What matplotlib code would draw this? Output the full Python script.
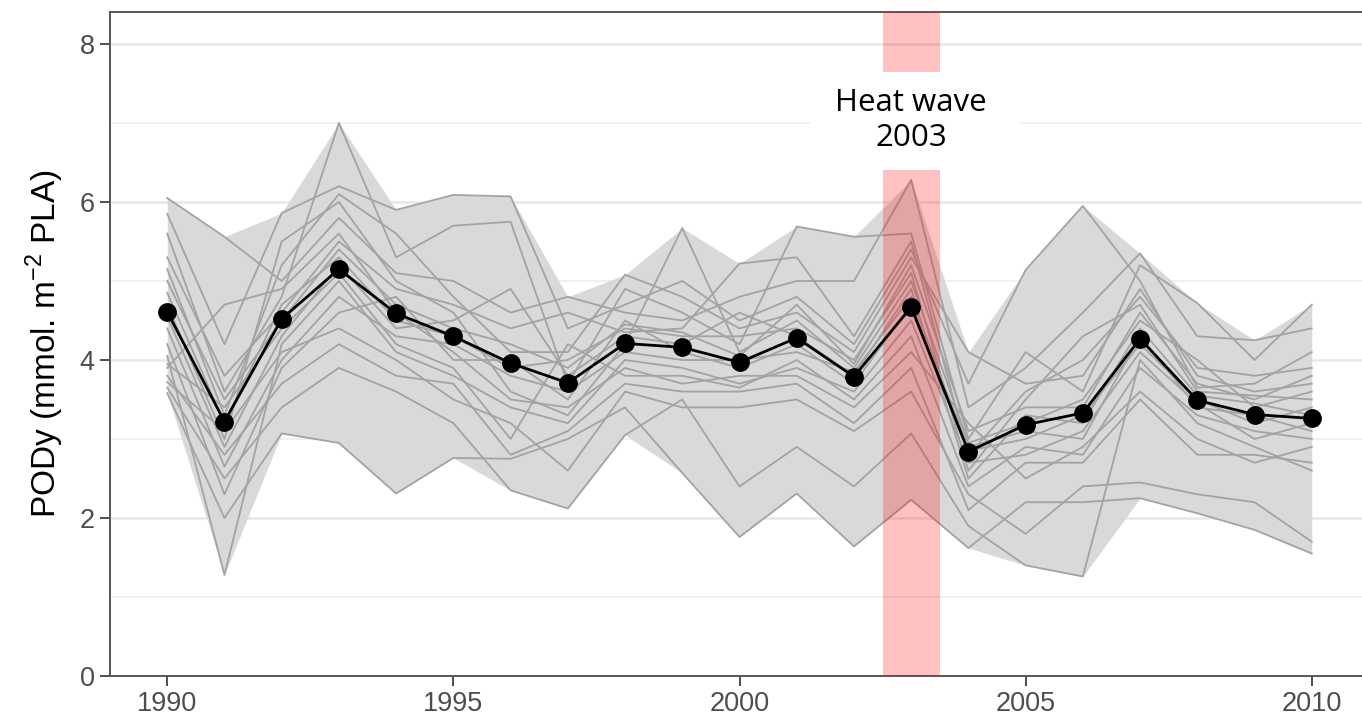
import numpy as np
import matplotlib
matplotlib.use("Agg")
import matplotlib.pyplot as plt
from matplotlib.patches import Rectangle

# years and mean PODy (black line)
years = list(range(1990, 2011))
mean_pody = [4.61, 3.22, 4.52, 5.15, 4.59, 4.30, 3.96, 3.71, 4.21, 4.16, 3.97,
             4.28, 3.79, 4.67, 2.84, 3.18, 3.33, 4.27, 3.49, 3.31, 3.26]

# individual sites (grey lines)
site_a = [6.05, 5.56, 5.0, 5.8, 5.1, 5.0, 4.6, 4.8, 4.6, 4.5, 4.8, 5.0, 5.0, 6.28, 3.4, 3.9, 4.6, 5.35, 4.3, 4.25, 4.4]
site_b = [5.85, 4.2, 5.86, 6.2, 5.9, 6.09, 6.07, 4.4, 4.7, 5.0, 4.5, 4.8, 4.2, 5.4, 3.7, 5.14, 5.95, 5.0, 3.65, 3.7, 4.1]
site_c = [5.6, 3.6, 4.8, 7.0, 5.3, 5.7, 5.75, 3.7, 4.9, 4.6, 4.2, 5.69, 5.56, 5.6, 3.0, 4.1, 3.6, 5.2, 4.72, 4.0, 4.7]
site_d = [5.3, 3.8, 4.6, 5.5, 4.9, 4.7, 4.4, 4.6, 4.35, 4.4, 5.22, 5.3, 4.3, 5.5, 2.8, 3.6, 4.0, 4.8, 3.9, 3.8, 3.9]
site_e = [5.15, 3.3, 5.2, 6.1, 5.6, 4.8, 4.1, 4.1, 5.08, 4.8, 4.4, 4.6, 4.1, 5.3, 4.1, 3.7, 3.8, 4.9, 3.8, 3.6, 3.7]
site_f = [5.0, 3.5, 4.5, 5.4, 4.7, 4.4, 4.2, 3.9, 4.45, 4.35, 4.05, 4.7, 3.95, 5.2, 3.1, 3.4, 3.4, 4.6, 3.7, 3.5, 3.8]
site_g = [4.85, 3.2, 4.7, 5.3, 4.5, 4.3, 3.9, 4.0, 4.4, 4.3, 4.3, 4.4, 4.0, 5.1, 2.6, 3.5, 4.3, 4.7, 3.6, 3.55, 3.5]
site_h = [4.7, 3.0, 5.5, 6.0, 5.0, 4.6, 3.6, 3.3, 4.2, 5.67, 4.1, 4.5, 3.9, 5.0, 2.95, 3.2, 3.5, 4.5, 4.0, 3.4, 3.6]
site_i = [4.55, 2.9, 4.3, 5.2, 4.4, 4.5, 4.9, 3.8, 4.3, 4.2, 4.6, 4.3, 3.8, 4.9, 2.5, 3.3, 3.2, 4.4, 3.55, 3.45, 3.3]
site_j = [4.4, 2.65, 4.0, 4.8, 4.3, 4.2, 3.8, 3.6, 4.1, 4.0, 4.0, 4.1, 3.85, 4.8, 2.85, 3.0, 3.3, 4.2, 3.5, 3.2, 3.4]
site_k = [4.2, 2.3, 3.9, 4.6, 4.8, 4.0, 4.0, 3.5, 4.5, 4.1, 3.9, 4.2, 3.7, 4.7, 2.9, 3.1, 3.0, 4.3, 3.4, 3.3, 3.1]
site_l = [4.05, 1.28, 4.2, 5.0, 4.1, 3.8, 3.4, 3.2, 4.0, 3.9, 3.7, 3.9, 3.6, 4.5, 2.7, 2.8, 3.1, 4.1, 3.45, 3.0, 3.2]
site_m = [3.95, 3.4, 4.4, 5.1, 4.2, 3.9, 3.0, 4.2, 3.8, 3.8, 3.65, 4.0, 3.5, 4.3, 2.4, 2.9, 2.8, 3.9, 3.3, 3.1, 3.0]
site_n = [3.9, 4.7, 4.9, 5.6, 4.6, 4.1, 3.5, 3.4, 3.9, 3.7, 3.8, 3.8, 3.4, 4.1, 3.2, 2.5, 2.9, 3.6, 3.0, 2.7, 2.9]
site_o = [3.8, 2.8, 3.7, 4.2, 3.8, 3.7, 2.8, 3.1, 3.7, 3.6, 3.6, 3.7, 3.2, 3.9, 2.1, 2.7, 2.7, 3.5, 2.8, 2.8, 2.7]
site_p = [3.72, 3.1, 4.1, 4.4, 4.0, 3.5, 3.2, 2.6, 3.6, 3.4, 3.4, 3.5, 3.1, 3.6, 2.3, 1.8, 2.4, 2.45, 2.3, 2.2, 1.7]
site_q = [3.65, 2.5, 3.4, 3.9, 3.6, 3.2, 2.35, 2.12, 3.05, 3.5, 2.4, 2.9, 2.4, 3.07, 1.9, 1.4, 1.26, 4.0, 3.2, 2.9, 2.6]
site_r = [3.58, 2.0, 3.07, 2.95, 2.31, 2.76, 2.75, 3.0, 3.4, 2.57, 1.76, 2.31, 1.64, 2.23, 1.62, 2.2, 2.2, 2.25, 2.06, 1.85, 1.55]

sites = [site_a, site_b, site_c, site_d, site_e, site_f, site_g, site_h, site_i,
         site_j, site_k, site_l, site_m, site_n, site_o, site_p, site_q, site_r]

heat_year = 2003
label_text = "Heat wave\n2003"
label_y = 7.03

plt.rcParams['font.family'] = ['Liberation Sans', 'DejaVu Sans']

fig = plt.figure(figsize=(13.62, 7.2), dpi=100)
ax = fig.add_axes([110/1362, 44/720, 1259/1362, 664/720])

arr = np.array(sites)
ax.fill_between(years, arr.min(axis=0), arr.max(axis=0), color='#d9d9d9', lw=0, zorder=1)
for s in sites:
    ax.plot(years, s, color='#a3a3a3', lw=1.3, zorder=2)

ax.axvspan(heat_year - 0.5, heat_year + 0.5, color='red', alpha=0.24, lw=0, zorder=3)

# white label box
ax.add_patch(Rectangle((heat_year - 1.77, label_y - 0.62), 3.67, 1.24,
                       facecolor='white', edgecolor='none', zorder=4))
ax.text(heat_year, label_y, label_text, ha='center', va='center', fontsize=22.5,
        family=['Open Sans', 'DejaVu Sans'], linespacing=1.2, zorder=5)

ax.plot(years, mean_pody, color='black', lw=2.0, marker='o', ms=12.5, zorder=6)

ax.set_xlim(1989, 2011)
ax.set_ylim(0, 8.405)
ax.set_xticks([1990, 1995, 2000, 2005, 2010])
ax.set_yticks([0, 2, 4, 6, 8])
ax.set_yticks([1, 3, 5, 7], minor=True)
ax.set_axisbelow(True)
ax.yaxis.grid(True, which='major', color='#e8e8e8', lw=1.8)
ax.yaxis.grid(True, which='minor', color='#eeeeee', lw=1.2)
ax.tick_params(axis='both', which='major', labelsize=19.5, labelcolor='#4d4d4d',
               color='#4d4d4d', length=7, width=1.4, pad=4)
ax.tick_params(axis='y', which='minor', length=0)
for sp in ax.spines.values():
    sp.set_color('#555555')
    sp.set_linewidth(1.4)

ax.set_ylabel(r'PODy (mmol. m$^{\mathregular{-2}}$ PLA)', fontsize=24, labelpad=10)

fig.savefig('out.png', dpi=100)
